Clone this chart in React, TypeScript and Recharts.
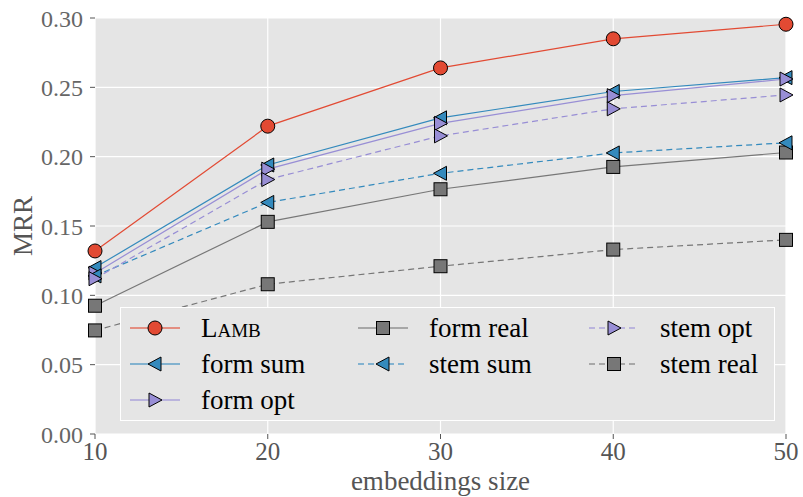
import React from 'react';
import { LineChart, Line, XAxis, YAxis, CartesianGrid } from 'recharts';

const sizes = [10, 20, 30, 40, 50];

const lamb = [0.132, 0.222, 0.264, 0.285, 0.2955];
const formSum = [0.12, 0.194, 0.228, 0.247, 0.257];
const formOpt = [0.116, 0.191, 0.224, 0.244, 0.256];
const formReal = [0.0925, 0.153, 0.1765, 0.1926, 0.203];
const stemSum = [0.114, 0.167, 0.188, 0.2027, 0.21];
const stemOpt = [0.112, 0.1835, 0.215, 0.2345, 0.2445];
const stemReal = [0.0747, 0.108, 0.121, 0.133, 0.14];

const yTicks = [0, 0.05, 0.1, 0.15, 0.2, 0.25, 0.3];

const RED = '#E24A33';
const BLUE = '#348ABD';
const PURPLE = '#988ED5';
const GRAY = '#777777';
const FONT = '"Liberation Serif", "DejaVu Serif", serif';

type Shape = 'circle' | 'left' | 'right' | 'square';

const series: {
  key: string;
  name: string;
  values: number[];
  color: string;
  shape: Shape;
  dashed: boolean;
}[] = [
  { key: 'lamb', name: 'Lamb', values: lamb, color: RED, shape: 'circle', dashed: false },
  { key: 'formSum', name: 'form sum', values: formSum, color: BLUE, shape: 'left', dashed: false },
  { key: 'formOpt', name: 'form opt', values: formOpt, color: PURPLE, shape: 'right', dashed: false },
  { key: 'formReal', name: 'form real', values: formReal, color: GRAY, shape: 'square', dashed: false },
  { key: 'stemSum', name: 'stem sum', values: stemSum, color: BLUE, shape: 'left', dashed: true },
  { key: 'stemOpt', name: 'stem opt', values: stemOpt, color: PURPLE, shape: 'right', dashed: true },
  { key: 'stemReal', name: 'stem real', values: stemReal, color: GRAY, shape: 'square', dashed: true },
];

const data = sizes.map((size, i) => {
  const row: Record<string, number> = { size };
  series.forEach((s) => {
    row[s.key] = s.values[i];
  });
  return row;
});

function marker(shape: Shape, cx: number, cy: number, fill: string, key?: React.Key) {
  const common = { fill, stroke: '#000', strokeWidth: 1 };
  if (shape === 'circle') return <circle key={key} cx={cx} cy={cy} r={7} {...common} />;
  if (shape === 'square')
    return <rect key={key} x={cx - 6.5} y={cy - 6.5} width={13} height={13} {...common} />;
  if (shape === 'left')
    return (
      <polygon
        key={key}
        points={`${cx - 7},${cy} ${cx + 6},${cy - 7} ${cx + 6},${cy + 7}`}
        {...common}
      />
    );
  return (
    <polygon
      key={key}
      points={`${cx + 7},${cy} ${cx - 6},${cy - 7} ${cx - 6},${cy + 7}`}
      {...common}
    />
  );
}

// matplotlib fills legend columns top to bottom: 3, 2, 2
const legendCols = [
  [0, 1, 2],
  [3, 4],
  [5, 6],
];
const colLeft = [9, 237, 468];

function LegendBox() {
  return (
    <div
      style={{
        position: 'absolute',
        left: 120,
        top: 307,
        width: 655,
        height: 114,
        background: '#E5E5E5',
        border: '1px solid #fff',
        boxSizing: 'border-box',
        fontFamily: FONT,
        fontSize: 27,
        color: '#000',
      }}
    >
      {legendCols.map((col, c) =>
        col.map((idx, r) => {
          const s = series[idx];
          return (
            <div
              key={s.key}
              style={{
                position: 'absolute',
                left: colLeft[c],
                top: 20 + r * 36 - 15,
                height: 30,
                display: 'flex',
                alignItems: 'center',
                whiteSpace: 'nowrap',
              }}
            >
              <svg width={50} height={30} style={{ marginRight: 21 }}>
                <line
                  x1={0}
                  y1={15}
                  x2={50}
                  y2={15}
                  stroke={s.color}
                  strokeOpacity={0.75}
                  strokeWidth={1.5}
                  strokeDasharray={s.dashed ? '6 4' : undefined}
                />
                {marker(s.shape, 25, 15, s.color)}
              </svg>
              <span style={{ fontVariant: s.key === 'lamb' ? 'small-caps' : 'normal' }}>
                {s.name}
              </span>
            </div>
          );
        }),
      )}
    </div>
  );
}

const blank = () => '';

export default function App() {
  return (
    <div style={{ position: 'fixed', left: 0, top: 0, width: 803, height: 497, background: '#fff' }}>
      <LineChart
        width={803}
        height={497}
        data={data}
        margin={{ top: 18, right: 17, left: 0, bottom: 0 }}
      >
        <CartesianGrid fill="#E5E5E5" stroke="#fff" strokeWidth={1.2} />
        <XAxis
          dataKey="size"
          type="number"
          domain={[10, 50]}
          ticks={sizes}
          height={63}
          axisLine={false}
          tickSize={5}
          tickMargin={3}
          tickLine={{ stroke: '#555' }}
          tick={{ fill: '#555', fontSize: 25, fontFamily: FONT }}
          label={{
            value: 'embeddings size',
            position: 'insideBottom',
            offset: 7,
            fill: '#555',
            fontSize: 27,
            fontFamily: FONT,
          }}
        />
        <XAxis
          xAxisId="top"
          orientation="top"
          dataKey="size"
          type="number"
          domain={[10, 50]}
          ticks={sizes}
          height={0}
          axisLine={false}
          tickSize={5}
          tickLine={{ stroke: '#555' }}
          tickFormatter={blank}
        />
        <YAxis
          type="number"
          domain={[0, 0.3]}
          ticks={yTicks}
          width={95}
          axisLine={false}
          tickSize={5}
          tickMargin={7}
          tickLine={{ stroke: '#555' }}
          tickFormatter={(v: number) => v.toFixed(2)}
          tick={{ fill: '#666', fontSize: 24, fontFamily: FONT }}
          label={{
            value: 'MRR',
            angle: -90,
            position: 'insideLeft',
            offset: 22,
            fill: '#555',
            fontSize: 27,
            fontFamily: FONT,
            style: { textAnchor: 'middle' },
          }}
        />
        <YAxis
          yAxisId="right"
          orientation="right"
          type="number"
          domain={[0, 0.3]}
          ticks={yTicks}
          width={0}
          axisLine={false}
          tickSize={5}
          tickLine={{ stroke: '#555' }}
          tickFormatter={blank}
        />
        {series.map((s) => (
          <Line
            key={s.key}
            dataKey={s.key}
            name={s.name}
            stroke={s.color}
            strokeWidth={1.2}
            strokeDasharray={s.dashed ? '6 4' : undefined}
            isAnimationActive={false}
            dot={(p: any) => marker(s.shape, p.cx, p.cy, s.color, p.index)}
            activeDot={false}
          />
        ))}
      </LineChart>
      <LegendBox />
    </div>
  );
}
